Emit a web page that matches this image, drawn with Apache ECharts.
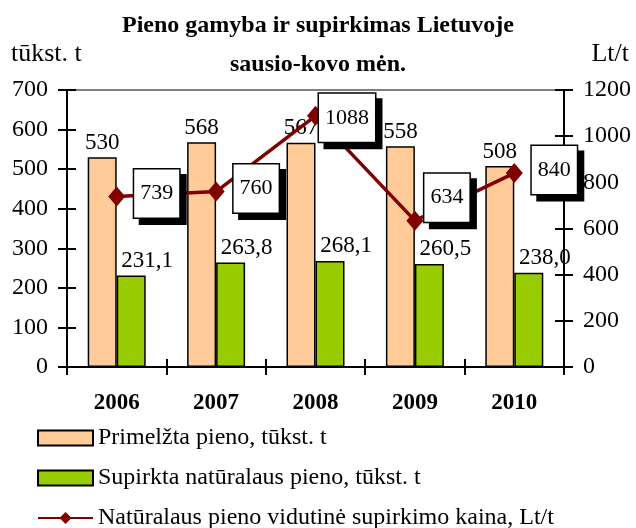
<!DOCTYPE html>
<html><head><meta charset="utf-8">
<script src="https://cdn.jsdelivr.net/npm/echarts@6/dist/echarts.min.js"></script>
<style>html,body{margin:0;padding:0;background:#fff}#c{width:636px;height:528px}</style>
</head><body><div id="c"></div>
<script>
const years = ['2006','2007','2008','2009','2010'];
const primelzta = [530, 568, 567, 558, 508];
const supirkta = [231.1, 263.8, 268.1, 260.5, 238.0];
const kaina = [739, 760, 1088, 634, 840];
const leftTicks = [0, 100, 200, 300, 400, 500, 600, 700];
const rightTicks = [0, 200, 400, 600, 800, 1000, 1200];
const seriesNames = ['Primelžta pieno, tūkst. t', 'Supirkta natūralaus pieno, tūkst. t', 'Natūralaus pieno vidutinė supirkimo kaina, Lt/t'];

const F = '"Liberation Serif", "Times New Roman", serif';
const chart = echarts.init(document.getElementById('c'), null, {renderer: 'canvas'});
const labelOffsets = [[0, -3], [0, -3], [-14, 2], [-8, -23], [0, -3]];
const lineData = kaina.map((v, i) => ({value: v, label: {offset: labelOffsets[i]}}));
const tickStyle = {color: '#000', width: 2};
const hiddenLabel = {show: false};
chart.setOption({
  backgroundColor: '#fff',
  animation: false,
  textStyle: {fontFamily: F, color: '#000'},
  title: [
    {text: 'Pieno gamyba ir supirkimas Lietuvoje', left: 'center', top: 9,
     textStyle: {fontFamily: F, fontSize: 24, fontWeight: 'bold', color: '#000'}},
    {text: 'sausio-kovo mėn.', left: 'center', top: 48,
     textStyle: {fontFamily: F, fontSize: 24, fontWeight: 'bold', color: '#000'}},
    {text: 'tūkst. t', left: 6, top: 36,
     textStyle: {fontFamily: F, fontSize: 26, fontWeight: 'normal', color: '#000'}},
    {text: 'Lt/t', right: 2, top: 36,
     textStyle: {fontFamily: F, fontSize: 26, fontWeight: 'normal', color: '#000'}}
  ],
  grid: {left: 67, right: 72, top: 90, bottom: 161, show: true, borderColor: '#808080', borderWidth: 2, backgroundColor: 'transparent'},
  legend: {
    orient: 'vertical', left: 32, top: 420, height: 110, itemGap: 14, itemWidth: 55, itemHeight: 15,
    textStyle: {fontFamily: F, fontSize: 24, color: '#000', lineHeight: 26},
    data: [{name: seriesNames[0], icon: 'rect'}, {name: seriesNames[1], icon: 'rect'}, {name: seriesNames[2]}]
  },
  xAxis: [
    {type: 'category', data: years,
     axisLine: {lineStyle: {color: '#000', width: 2}},
     axisTick: {show: true, length: 8, lineStyle: tickStyle},
     axisLabel: {fontFamily: F, fontSize: 23, fontWeight: 'bold', color: '#000', margin: 25}},
    {type: 'category', data: years, position: 'bottom', offset: 0,
     axisLine: {show: false},
     axisTick: {show: true, inside: true, length: 8, lineStyle: tickStyle},
     axisLabel: hiddenLabel}
  ],
  yAxis: [
    {type: 'value', min: leftTicks[0], max: leftTicks[leftTicks.length - 1], interval: 100,
     axisLine: {show: true, lineStyle: {color: '#000', width: 2}},
     axisTick: {show: true, length: 9, lineStyle: tickStyle},
     splitLine: {show: false},
     axisLabel: {fontFamily: F, fontSize: 24, color: '#000', margin: 19}},
    {type: 'value', min: rightTicks[0], max: rightTicks[rightTicks.length - 1], interval: 200,
     position: 'right',
     axisLine: {show: true, lineStyle: {color: '#000', width: 2}},
     axisTick: {show: true, length: 9, lineStyle: tickStyle},
     splitLine: {show: false},
     axisLabel: {fontFamily: F, fontSize: 24, color: '#000', margin: 19, formatter: v => String(v)}},
    {type: 'value', min: leftTicks[0], max: leftTicks[leftTicks.length - 1], interval: 100,
     position: 'left', offset: 0,
     axisLine: {show: false}, splitLine: {show: false}, axisLabel: hiddenLabel,
     axisTick: {show: true, inside: true, length: 9, lineStyle: tickStyle}},
    {type: 'value', min: rightTicks[0], max: rightTicks[rightTicks.length - 1], interval: 200,
     position: 'right', offset: 0,
     axisLine: {show: false}, splitLine: {show: false}, axisLabel: hiddenLabel,
     axisTick: {show: true, inside: true, length: 9, lineStyle: tickStyle}}
  ],
  series: [
    {name: seriesNames[0], type: 'bar', data: primelzta, yAxisIndex: 0,
     barWidth: 29, barGap: '0%',
     itemStyle: {color: '#FFCC99', borderColor: '#000', borderWidth: 1.5},
     label: {show: true, position: 'top', distance: 3, fontFamily: F, fontSize: 23, color: '#000'}},
    {name: seriesNames[1], type: 'bar', data: supirkta, yAxisIndex: 0,
     barWidth: 29, barGap: '0%',
     itemStyle: {color: '#99CC00', borderColor: '#000', borderWidth: 1.5},
     label: {show: true, position: 'top', distance: 3, offset: [16, 0], fontFamily: F, fontSize: 23, color: '#000',
       formatter: p => p.value.toFixed(1).replace('.', ',')}},
    {name: seriesNames[2], type: 'line', data: lineData, yAxisIndex: 1, z: 5,
     lineStyle: {color: '#800000', width: 3.5},
     itemStyle: {color: '#800000'},
     symbol: 'diamond', symbolSize: [17, 20],
     label: {show: true, position: 'right', distance: 9, fontFamily: F, fontSize: 22, color: '#000',
       backgroundColor: '#fff', borderColor: '#000', borderWidth: 1.5, padding: [13, 6],
       shadowColor: '#000', shadowOffsetX: 6, shadowOffsetY: 6, shadowBlur: 0}}
  ]
});
</script></body></html>
